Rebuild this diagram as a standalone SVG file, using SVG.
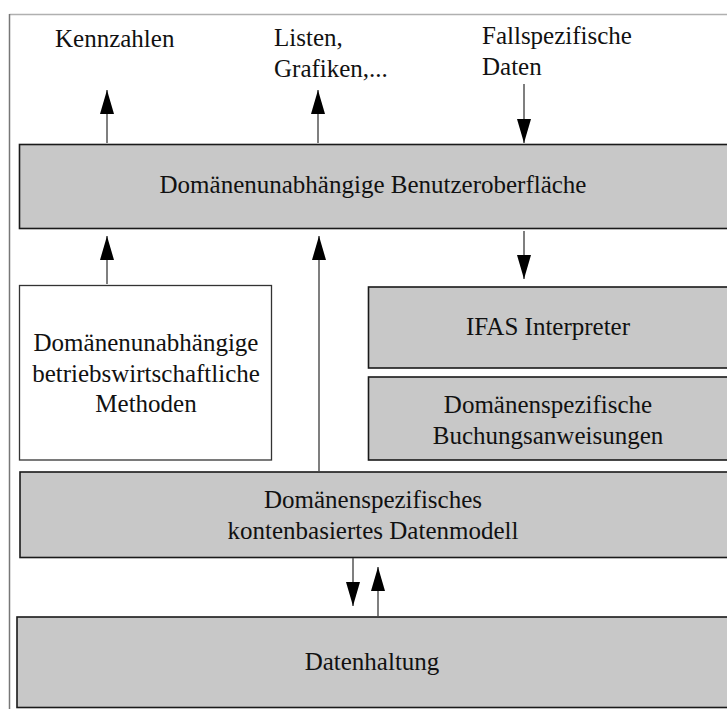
<svg xmlns="http://www.w3.org/2000/svg" width="727" height="709" viewBox="0 0 727 709">
<defs>
<marker id="ah" markerUnits="userSpaceOnUse" markerWidth="24" markerHeight="14" refX="24" refY="7" orient="auto">
<path d="M0,0 L24,7 L0,14 z" fill="#000"/>
</marker>
<style>
.t{font-family:"Liberation Serif","Times New Roman",serif;font-size:25px;fill:#111}
.c{text-anchor:middle}
.g{fill:#c8c8c8;stroke:#1a1a1a;stroke-width:1.6}
.w{fill:#fff;stroke:#333;stroke-width:1.3}
.a{stroke:#555;stroke-width:1.5;fill:none;marker-end:url(#ah)}
</style>
</defs>
<rect width="727" height="709" fill="#fff"/>
<g id="frame" fill="none">
<line x1="9.5" y1="14.5" x2="727" y2="14.5" stroke="#b0b0b0" stroke-width="1.5"/>
<line x1="9.5" y1="14" x2="9.5" y2="709" stroke="#777" stroke-width="1.5"/>
</g>
<g id="labels">
<text class="t" x="55" y="47">Kennzahlen</text>
<text class="t" x="274" y="46">Listen,</text>
<text class="t" x="274" y="77">Grafiken,...</text>
<text class="t" x="482" y="44">Fallspezifische</text>
<text class="t" x="482" y="75">Daten</text>
</g>
<g id="ui">
<rect class="g" x="19.5" y="144.5" width="710" height="84"/>
<text class="t c" x="373" y="193">Domänenunabhängige Benutzeroberfläche</text>
</g>
<g id="methoden">
<rect class="w" x="19.5" y="285.5" width="252" height="174.5"/>
<text class="t c" x="146" y="351">Domänenunabhängige</text>
<text class="t c" x="146" y="382">betriebswirtschaftliche</text>
<text class="t c" x="146" y="412">Methoden</text>
</g>
<g id="ifas">
<rect class="g" x="368.5" y="287" width="362" height="81"/>
<text class="t c" x="548" y="335">IFAS Interpreter</text>
</g>
<g id="buchung">
<rect class="g" x="368.5" y="377" width="362" height="83"/>
<text class="t c" x="548" y="413">Domänenspezifische</text>
<text class="t c" x="548" y="444">Buchungsanweisungen</text>
</g>
<g id="datenmodell">
<rect class="g" x="20" y="472" width="710" height="85.5"/>
<text class="t c" x="373" y="508">Domänenspezifisches</text>
<text class="t c" x="373" y="539">kontenbasiertes Datenmodell</text>
</g>
<g id="datenhaltung">
<rect class="g" x="17" y="617" width="713" height="90.5"/>
<text class="t c" x="372" y="670">Datenhaltung</text>
</g>
<g id="connectors">
<line class="a" x1="107" y1="143" x2="107" y2="90"/>
<line class="a" x1="318" y1="143" x2="318" y2="90"/>
<line class="a" x1="524" y1="84" x2="524" y2="143"/>
<line class="a" x1="107" y1="284" x2="107" y2="236"/>
<line class="a" x1="319" y1="471" x2="319" y2="236"/>
<line class="a" x1="524" y1="231" x2="524" y2="279"/>
<line class="a" x1="353" y1="558" x2="353" y2="606"/>
<line class="a" x1="378" y1="616" x2="378" y2="567"/>
</g>
</svg>
